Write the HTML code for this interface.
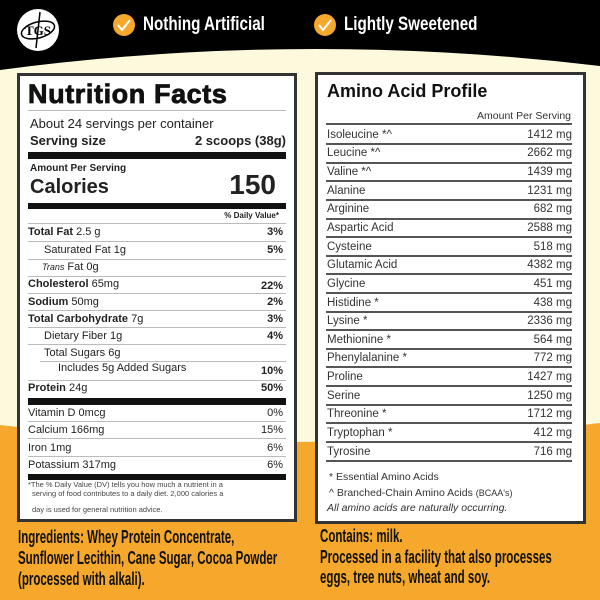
<!DOCTYPE html>
<html><head><style>
*{margin:0;padding:0;box-sizing:border-box}
body{width:600px;height:600px;position:relative;overflow:hidden;font-family:"Liberation Sans",sans-serif;color:#222;background:#fdf9dc}
.a{position:absolute;white-space:nowrap;line-height:1}
.r{position:absolute;white-space:nowrap;line-height:1;text-align:right}
.ln{position:absolute;height:1px;background:#bbb}
.bar{position:absolute;background:#111}
.cond{font-family:"Liberation Sans",sans-serif;font-weight:bold;transform:scaleX(0.64);transform-origin:0 0}
.al{position:absolute;left:327px;width:245px;font-size:11.5px;line-height:1;color:#333}
.al span{float:right}
.aln{position:absolute;left:326px;width:246px;height:1.5px;background:#555}
</style></head><body>
<svg width="600" height="600" style="position:absolute;left:0;top:0">
<path d="M0 0H600V66Q300 30 0 70Z" fill="#000"/>
<path d="M0 425Q300 460 600 423V600H0Z" fill="#f6a82d"/>
<circle cx="38" cy="30" r="21" fill="#fff"/>
<circle cx="124" cy="25" r="11" fill="#f6a82d"/>
<circle cx="325" cy="25" r="11" fill="#f6a82d"/>
<path d="M118 25l4 5 8-10" stroke="#fff" stroke-width="2" fill="none"/>
<path d="M319 25l4 5 8-10" stroke="#fff" stroke-width="2" fill="none"/>
<ellipse cx="38" cy="30" rx="17" ry="8" fill="none" stroke="#000" stroke-width="1.5" transform="rotate(-15 38 30)"/>
<text x="38" y="35" font-family="Liberation Serif" font-weight="bold" font-size="13" text-anchor="middle">TGS</text>
<line x1="40" y1="12" x2="36" y2="48" stroke="#000" stroke-width="1.5"/>
</svg>
<div class="a cond" style="left:143px;top:15px;font-size:19px;color:#fff;transform:scaleX(0.8)">Nothing Artificial</div>
<div class="a cond" style="left:344px;top:15px;font-size:19px;color:#fff;transform:scaleX(0.8)">Lightly Sweetened</div>

<!-- left box -->
<div style="position:absolute;left:17px;top:73px;width:280px;height:449px;background:#fff;border:3px solid #333"></div>
<div class="a" style="left:28px;top:81px;font-size:27px;font-weight:bold;color:#111;letter-spacing:0.6px;-webkit-text-stroke:0.8px #111">Nutrition Facts</div>
<div class="ln" style="left:28px;top:110px;width:258px"></div>
<div class="a" style="left:30px;top:117px;font-size:13px">About 24 servings per container</div>
<div class="a" style="left:30px;top:134px;font-size:13px;font-weight:bold">Serving size</div>
<div class="r" style="right:314px;top:134px;font-size:13px;font-weight:bold">2 scoops (38g)</div>
<div class="bar" style="left:28px;top:152px;width:258px;height:7px"></div>
<div class="a" style="left:30px;top:164px;font-size:10px;font-weight:bold">Amount Per Serving</div>
<div class="a" style="left:30px;top:177px;font-size:20px;font-weight:bold">Calories</div>
<div class="r" style="right:324px;top:171px;font-size:28px;font-weight:bold">150</div>
<div class="bar" style="left:28px;top:203px;width:258px;height:6px"></div>
<div class="r" style="right:321px;top:212px;font-size:8px;font-weight:bold">% Daily Value*</div>
<div class="ln" style="left:28px;top:223px;width:258px"></div>

<div class="a" style="left:28px;top:227px;font-size:11px"><b>Total Fat</b> 2.5 g</div><div class="r" style="right:317px;top:227px;font-size:11px;font-weight:bold">3%</div>
<div class="ln" style="left:28px;top:241px;width:258px"></div>
<div class="a" style="left:44px;top:245px;font-size:11px">Saturated Fat 1g</div><div class="r" style="right:317px;top:245px;font-size:11px;font-weight:bold">5%</div>
<div class="ln" style="left:28px;top:259px;width:258px"></div>
<div class="a" style="left:42px;top:262px;font-size:11px"><i style="font-size:9px">Trans</i> Fat 0g</div>
<div class="ln" style="left:28px;top:276px;width:258px"></div>
<div class="a" style="left:28px;top:279px;font-size:11px"><b>Cholesterol</b> 65mg</div><div class="r" style="right:317px;top:281px;font-size:11px;font-weight:bold">22%</div>
<div class="ln" style="left:28px;top:293px;width:258px"></div>
<div class="a" style="left:28px;top:297px;font-size:11px"><b>Sodium</b> 50mg</div><div class="r" style="right:317px;top:297px;font-size:11px;font-weight:bold">2%</div>
<div class="ln" style="left:28px;top:310px;width:258px"></div>
<div class="a" style="left:28px;top:314px;font-size:11px"><b>Total Carbohydrate</b> 7g</div><div class="r" style="right:317px;top:314px;font-size:11px;font-weight:bold">3%</div>
<div class="ln" style="left:28px;top:327px;width:258px"></div>
<div class="a" style="left:44px;top:331px;font-size:11px">Dietary Fiber 1g</div><div class="r" style="right:317px;top:331px;font-size:11px;font-weight:bold">4%</div>
<div class="ln" style="left:28px;top:344px;width:258px"></div>
<div class="a" style="left:44px;top:348px;font-size:11px">Total Sugars 6g</div>
<div class="ln" style="left:40px;top:361px;width:246px"></div>
<div class="a" style="left:58px;top:363px;font-size:11px">Includes 5g Added Sugars</div><div class="r" style="right:317px;top:366px;font-size:11px;font-weight:bold">10%</div>
<div class="ln" style="left:28px;top:380px;width:258px"></div>
<div class="a" style="left:28px;top:383px;font-size:11px"><b>Protein</b> 24g</div><div class="r" style="right:317px;top:383px;font-size:11px;font-weight:bold">50%</div>
<div class="bar" style="left:28px;top:398px;width:258px;height:7px"></div>
<div class="a" style="left:28px;top:408px;font-size:11px">Vitamin D 0mcg</div><div class="r" style="right:317px;top:408px;font-size:11px">0%</div>
<div class="ln" style="left:28px;top:421px;width:258px"></div>
<div class="a" style="left:28px;top:425px;font-size:11px">Calcium 166mg</div><div class="r" style="right:317px;top:425px;font-size:11px">15%</div>
<div class="ln" style="left:28px;top:438px;width:258px"></div>
<div class="a" style="left:28px;top:443px;font-size:11px">Iron 1mg</div><div class="r" style="right:317px;top:443px;font-size:11px">6%</div>
<div class="ln" style="left:28px;top:456px;width:258px"></div>
<div class="a" style="left:28px;top:460px;font-size:11px">Potassium 317mg</div><div class="r" style="right:317px;top:460px;font-size:11px">6%</div>
<div class="bar" style="left:28px;top:474px;width:258px;height:6px"></div>
<div class="a" style="left:28px;top:481px;font-size:7.5px;color:#444">*The % Daily Value (DV) tells you how much a nutrient in a</div>
<div class="a" style="left:32px;top:490px;font-size:7.5px;color:#444">serving of food contributes to a daily diet. 2,000 calories a</div>
<div class="a" style="left:32px;top:506px;font-size:7.5px;color:#444">day is used for general nutrition advice.</div>

<!-- right box -->
<div style="position:absolute;left:315px;top:72px;width:271px;height:452px;background:#fff;border:3px solid #333"></div>
<div class="a" style="left:327px;top:82px;font-size:18px;font-weight:bold;color:#111">Amino Acid Profile</div>
<div class="r" style="right:29px;top:111px;font-size:10.5px;color:#333">Amount Per Serving</div>
<div class="aln" style="top:123px"></div>
<div class="al" style="top:130px">Isoleucine *^<span>1412 mg</span></div><div class="aln" style="top:143px"></div>
<div class="al" style="top:148px">Leucine *^<span>2662 mg</span></div><div class="aln" style="top:162px"></div>
<div class="al" style="top:167px">Valine *^<span>1439 mg</span></div><div class="aln" style="top:180px"></div>
<div class="al" style="top:186px">Alanine<span>1231 mg</span></div><div class="aln" style="top:199px"></div>
<div class="al" style="top:204px">Arginine<span>682 mg</span></div><div class="aln" style="top:218px"></div>
<div class="al" style="top:223px">Aspartic Acid<span>2588 mg</span></div><div class="aln" style="top:236px"></div>
<div class="al" style="top:242px">Cysteine<span>518 mg</span></div><div class="aln" style="top:255px"></div>
<div class="al" style="top:260px">Glutamic Acid<span>4382 mg</span></div><div class="aln" style="top:273px"></div>
<div class="al" style="top:279px">Glycine<span>451 mg</span></div><div class="aln" style="top:292px"></div>
<div class="al" style="top:298px">Histidine *<span>438 mg</span></div><div class="aln" style="top:311px"></div>
<div class="al" style="top:316px">Lysine *<span>2336 mg</span></div><div class="aln" style="top:329px"></div>
<div class="al" style="top:335px">Methionine *<span>564 mg</span></div><div class="aln" style="top:348px"></div>
<div class="al" style="top:353px">Phenylalanine *<span>772 mg</span></div><div class="aln" style="top:366px"></div>
<div class="al" style="top:372px">Proline<span>1427 mg</span></div><div class="aln" style="top:385px"></div>
<div class="al" style="top:391px">Serine<span>1250 mg</span></div><div class="aln" style="top:404px"></div>
<div class="al" style="top:409px">Threonine *<span>1712 mg</span></div><div class="aln" style="top:422px"></div>
<div class="al" style="top:428px">Tryptophan *<span>412 mg</span></div><div class="aln" style="top:441px"></div>
<div class="al" style="top:447px">Tyrosine<span>716 mg</span></div><div class="aln" style="top:460px"></div>
<div class="a" style="left:329px;top:472px;font-size:10.5px;color:#333">* Essential Amino Acids</div>
<div class="a" style="left:329px;top:488px;font-size:10.5px;color:#333">^ Branched-Chain Amino Acids <span style="font-size:9px">(BCAA's)</span></div>
<div class="a" style="left:327px;top:503px;font-size:10.5px;font-style:italic;color:#333">All amino acids are naturally occurring.</div>

<!-- bottom text -->
<div class="a cond" style="left:18px;top:527px;font-size:18px;color:#111;line-height:21px">Ingredients: Whey Protein Concentrate,<br>Sunflower Lecithin, Cane Sugar, Cocoa Powder<br>(processed with alkali).</div>
<div class="a cond" style="left:320px;top:527px;font-size:18px;color:#111">Contains: milk.</div>
<div class="a cond" style="left:320px;top:547px;font-size:18px;color:#111;line-height:20px">Processed in a facility that also processes<br>eggs, tree nuts, wheat and soy.</div>
</body></html>
